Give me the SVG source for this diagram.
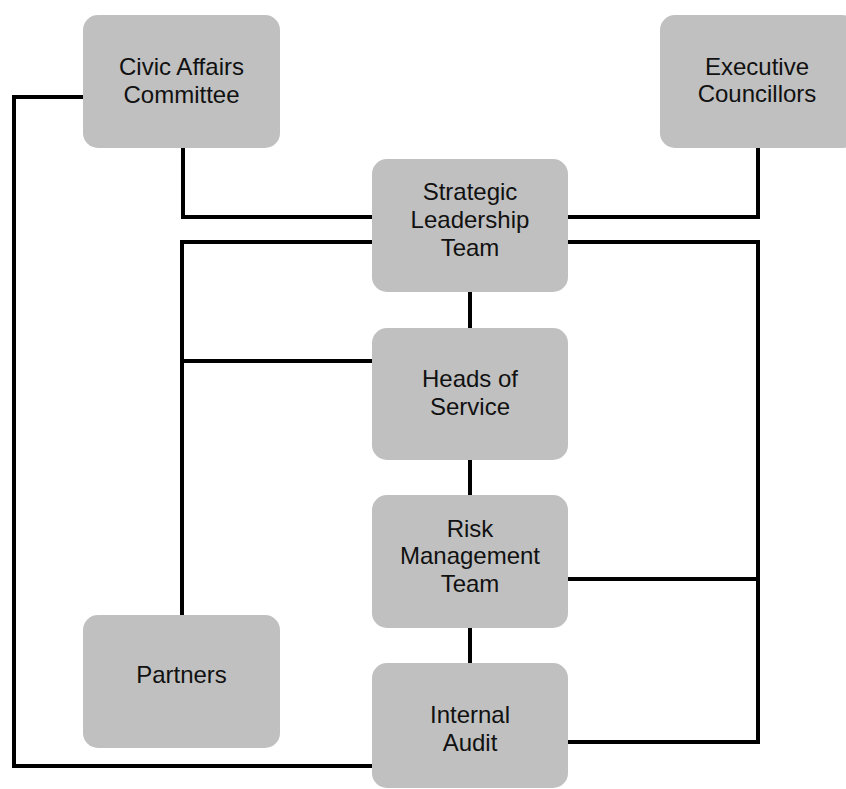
<svg xmlns="http://www.w3.org/2000/svg" width="846" height="789" viewBox="0 0 846 789">
<style>
.box{fill:#c0c0c0;}
.lbl{font-family:"Liberation Sans",Arial,sans-serif;font-size:24px;fill:#111;text-anchor:middle;}
.ln{fill:none;stroke:#000;stroke-width:4;stroke-linecap:square;stroke-linejoin:miter;}
</style>
<rect width="846" height="789" fill="#fff"/>
<g id="connectors">
<polyline class="ln" points="83,97 14,97 14,766 372,766"/>
<polyline class="ln" points="183,148 183,217 372,217"/>
<polyline class="ln" points="758,148 758,217 568,217"/>
<polyline class="ln" points="372,242 182,242 182,615"/>
<polyline class="ln" points="182,361 372,361"/>
<polyline class="ln" points="568,242 758,242 758,742 568,742"/>
<polyline class="ln" points="568,579 758,579"/>
<polyline class="ln" points="470,292 470,328"/>
<polyline class="ln" points="470,460 470,495"/>
<polyline class="ln" points="470,628 470,663"/>
</g>
<g id="civic">
<rect class="box" x="83" y="15" width="197" height="133" rx="15"/>
<text class="lbl" x="181.5" y="75">Civic Affairs</text>
<text class="lbl" x="181.5" y="103">Committee</text>
</g>
<g id="executive">
<rect class="box" x="660" y="15" width="197" height="133" rx="15"/>
<text class="lbl" x="757" y="75">Executive</text>
<text class="lbl" x="757" y="102">Councillors</text>
</g>
<g id="slt">
<rect class="box" x="372" y="159" width="196" height="133" rx="15"/>
<text class="lbl" x="470" y="200">Strategic</text>
<text class="lbl" x="470" y="228">Leadership</text>
<text class="lbl" x="470" y="256">Team</text>
</g>
<g id="heads">
<rect class="box" x="372" y="328" width="196" height="132" rx="15"/>
<text class="lbl" x="470" y="387">Heads of</text>
<text class="lbl" x="470" y="415">Service</text>
</g>
<g id="risk">
<rect class="box" x="372" y="495" width="196" height="133" rx="15"/>
<text class="lbl" x="470" y="537">Risk</text>
<text class="lbl" x="470" y="564">Management</text>
<text class="lbl" x="470" y="592">Team</text>
</g>
<g id="partners">
<rect class="box" x="83" y="615" width="197" height="133" rx="15"/>
<text class="lbl" x="181.5" y="683">Partners</text>
</g>
<g id="audit">
<rect class="box" x="372" y="663" width="196" height="125" rx="15"/>
<text class="lbl" x="470" y="723">Internal</text>
<text class="lbl" x="470" y="751">Audit</text>
</g>
</svg>
